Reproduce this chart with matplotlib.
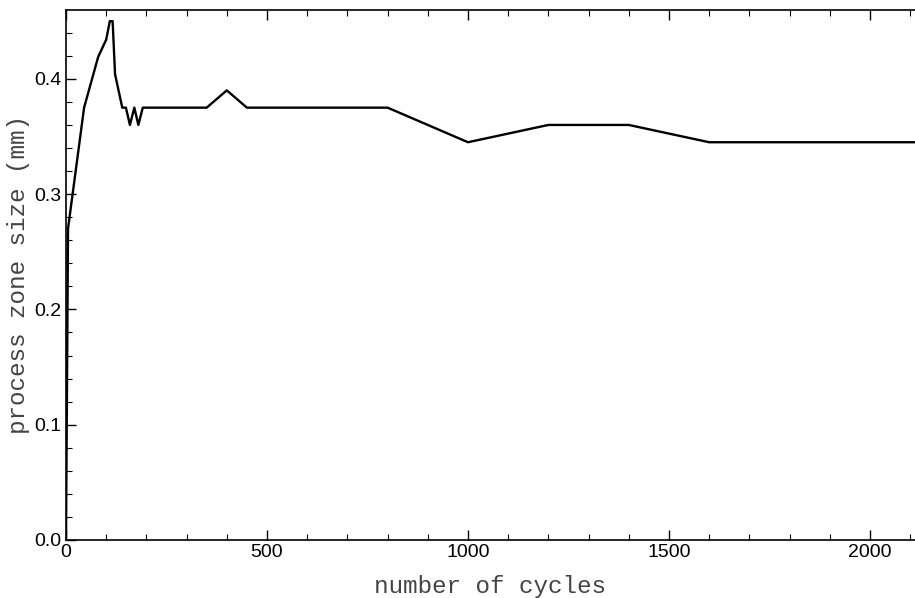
import matplotlib
matplotlib.use("Agg")
import matplotlib.pyplot as plt
from matplotlib.ticker import MultipleLocator

# process zone size vs number of cycles
cycles = [0, 5, 45, 80, 100, 109, 116, 122, 140, 149, 159, 170, 180, 191,
          350, 400, 450, 800, 1000, 1200, 1400, 1600, 2200]
zone_size = [0.0, 0.27, 0.375, 0.419, 0.434, 0.45, 0.45, 0.404, 0.375, 0.375,
             0.36, 0.375, 0.36, 0.375, 0.375, 0.39, 0.375, 0.375, 0.345,
             0.36, 0.36, 0.345, 0.345]

fig = plt.figure(figsize=(9.15, 5.98), dpi=100)
ax = fig.add_axes([66/915, 58/598, (915-66)/915, (540-10)/598])

ax.plot(cycles, zone_size, color="black", linewidth=1.7)

ax.set_xlim(0, 2112)
ax.set_ylim(0, 0.4597)
ax.spines["right"].set_visible(False)
for s in ["left", "bottom", "top"]:
    ax.spines[s].set_linewidth(1.2)

ax.xaxis.set_major_locator(MultipleLocator(500))
ax.xaxis.set_minor_locator(MultipleLocator(100))
ax.yaxis.set_major_locator(MultipleLocator(0.1))
ax.yaxis.set_minor_locator(MultipleLocator(0.02))
ax.yaxis.set_major_formatter(plt.FuncFormatter(lambda v, p: f"{v:.1f}"))
ax.tick_params(which="both", direction="in", top=True, right=False,
               labelsize=14, pad=3)
ax.tick_params(which="major", length=7, width=1)
ax.tick_params(which="minor", length=4, width=0.8)
for lab in ax.get_xticklabels() + ax.get_yticklabels():
    lab.set_fontfamily("Liberation Sans")

ax.set_xlabel("number of cycles", fontfamily="Liberation Mono", fontsize=17.5,
              color="#444444", labelpad=10)
ax.set_ylabel("process zone size (mm)", fontfamily="Liberation Mono",
              fontsize=17.5, color="#444444", labelpad=3)

fig.savefig("out.png", dpi=100)
